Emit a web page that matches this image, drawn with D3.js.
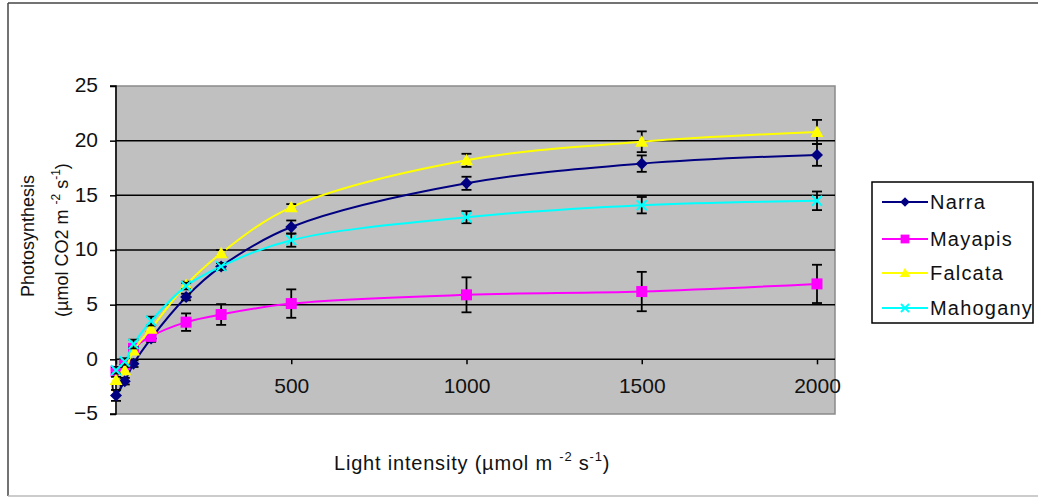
<!DOCTYPE html>
<html><head><meta charset="utf-8">
<script src="https://cdn.jsdelivr.net/npm/d3@7"></script>
<style>html,body{margin:0;padding:0;background:#fff;}svg{display:block;font-family:"Liberation Sans",Arial,sans-serif;}</style>
</head><body>
<svg id="c" width="1038" height="497"></svg>
<script>
// ---- data ----
const lightLevels = [0, 25, 50, 100, 200, 300, 500, 1000, 1500, 2000];
const seriesNames = ["Narra", "Mayapis", "Falcata", "Mahogany"];
const narra    = [-3.3, -2.0, -0.4, 1.9, 5.7, 8.5, 12.1, 16.1, 17.9, 18.7];
const mayapis  = [-1.1, -0.5, 1.0, 2.1, 3.4, 4.1, 5.1, 5.9, 6.2, 6.9];
const falcata  = [-1.9, -1.0, 0.8, 2.8, 6.8, 9.7, 13.9, 18.2, 19.9, 20.8];
const mahogany = [-1.0, -0.2, 1.4, 3.5, 6.7, 8.5, 10.9, 13.0, 14.1, 14.5];
const narraErr    = [0.5, 0.3, 0.3, 0.3, 0.3, 0.3, 0.6, 0.6, 0.75, 1.0];
const mayapisErr  = [0.3, 0.3, 0.3, 0.3, 0.8, 0.95, 1.3, 1.6, 1.8, 1.75];
const falcataErr  = [0.3, 0.3, 0.3, 0.3, 0.3, 0.3, 0.3, 0.6, 0.95, 1.1];
const mahoganyErr = [0.3, 0.3, 0.4, 0.4, 0.3, 0.3, 0.6, 0.55, 0.75, 0.85];
const yTicks = [-5, 0, 5, 10, 15, 20, 25];
const xTicks = [0, 500, 1000, 1500, 2000];

const colors = ["#000080", "#FF00FF", "#FFFF00", "#00FFFF"];
const markers = ["diamond", "square", "triangle", "x"];
const values = [narra, mayapis, falcata, mahogany];
const errs = [narraErr, mayapisErr, falcataErr, mahoganyErr];

const svg = d3.select("#c");
const x = d3.scaleLinear().domain([0, 2000]).range([116, 817]);
const y = d3.scaleLinear().domain([-5, 25]).range([414, 86]);
const plotL = 116, plotR = 835, plotT = 86, plotB = 414;

// outer frame
svg.append("line").attr("x1", 8).attr("y1", 3).attr("x2", 1038).attr("y2", 3).attr("stroke", "#444").attr("stroke-width", 1.5);
svg.append("line").attr("x1", 8).attr("y1", 3).attr("x2", 8).attr("y2", 496).attr("stroke", "#444").attr("stroke-width", 1.5);
svg.append("line").attr("x1", 8).attr("y1", 496).attr("x2", 1038).attr("y2", 496).attr("stroke", "#bbb").attr("stroke-width", 1.5);

// plot area
svg.append("rect").attr("x", plotL).attr("y", plotT).attr("width", plotR - plotL).attr("height", plotB - plotT)
  .attr("fill", "#C0C0C0").attr("stroke", "#8a8a8a").attr("stroke-width", 1.5);

// gridlines
svg.append("g").selectAll("line").data(yTicks.filter(t => t > -5 && t < 25)).join("line")
  .attr("x1", plotL).attr("x2", plotR).attr("y1", d => y(d)).attr("y2", d => y(d))
  .attr("stroke", "#000").attr("stroke-width", 1.5);

// y axis
const yAxis = svg.append("g").attr("transform", `translate(${plotL},0)`)
  .call(d3.axisLeft(y).tickValues(yTicks).tickSize(6).tickPadding(12).tickFormat(d3.format("d")));
yAxis.select(".domain").attr("stroke", "#000").attr("stroke-width", 1.5).attr("d", `M-6,${plotB}H0V${plotT}H-6`);
yAxis.selectAll(".tick line").attr("stroke", "#000").attr("stroke-width", 1.5);
yAxis.selectAll(".tick text").attr("font-size", 21).attr("fill", "#111").attr("font-family", "Liberation Sans, Arial, sans-serif").attr("dy", "0.28em");

// x axis at y=0
const xAxis = svg.append("g").attr("transform", `translate(0,${y(0)})`)
  .call(d3.axisBottom(x).tickValues(xTicks).tickSize(5).tickPadding(14).tickFormat(d3.format("d")));
xAxis.select(".domain").remove();
xAxis.selectAll(".tick line").attr("stroke", "#000").attr("stroke-width", 1.5);
xAxis.selectAll(".tick text").attr("font-size", 21).attr("fill", "#111").attr("font-family", "Liberation Sans, Arial, sans-serif");

// marker symbol generator
function drawMarker(g, type, cx, cy, color, scale) {
  const s = scale || 1;
  if (type === "diamond") {
    g.append("path").attr("d", `M${cx},${cy - 6 * s}L${cx + 6 * s},${cy}L${cx},${cy + 6 * s}L${cx - 6 * s},${cy}Z`).attr("fill", color);
  } else if (type === "square") {
    g.append("rect").attr("x", cx - 5.5 * s).attr("y", cy - 5.5 * s).attr("width", 11 * s).attr("height", 11 * s).attr("fill", color);
  } else if (type === "triangle") {
    g.append("path").attr("d", `M${cx},${cy - 6.5 * s}L${cx + 6.5 * s},${cy + 5 * s}L${cx - 6.5 * s},${cy + 5 * s}Z`).attr("fill", color);
  } else {
    g.append("path").attr("d", `M${cx - 5 * s},${cy - 5 * s}L${cx + 5 * s},${cy + 5 * s}M${cx - 5 * s},${cy + 5 * s}L${cx + 5 * s},${cy - 5 * s}`)
      .attr("stroke", color).attr("stroke-width", 2).attr("fill", "none");
  }
}

const line = d3.line().x(d => x(d[0])).y(d => y(d[1])).curve(d3.curveCatmullRom.alpha(0.5));

values.forEach((vals, i) => {
  const pts = lightLevels.map((lv, j) => [lv, vals[j], errs[i][j]]);
  const g = svg.append("g");
  g.append("path").datum(pts).attr("d", line).attr("fill", "none").attr("stroke", colors[i]).attr("stroke-width", 2);
  // error bars
  const eb = g.append("g").attr("stroke", "#000").attr("stroke-width", 1.8);
  pts.forEach(p => {
    const xx = x(p[0]), y1 = y(p[1] + p[2]), y2 = y(p[1] - p[2]);
    eb.append("line").attr("x1", xx).attr("x2", xx).attr("y1", y1).attr("y2", y2);
    eb.append("line").attr("x1", xx - 5).attr("x2", xx + 5).attr("y1", y1).attr("y2", y1);
    eb.append("line").attr("x1", xx - 5).attr("x2", xx + 5).attr("y1", y2).attr("y2", y2);
  });
  pts.forEach(p => drawMarker(g, markers[i], x(p[0]), y(p[1]), colors[i]));
});

// y title
const yt = svg.append("text").attr("transform", "translate(34,236) rotate(-90)").attr("text-anchor", "middle")
  .attr("font-size", 18).attr("fill", "#111").text("Photosynthesis");
const yt2 = svg.append("text").attr("transform", "translate(68,240) rotate(-90)").attr("text-anchor", "middle")
  .attr("font-size", 18).attr("fill", "#111");
yt2.append("tspan").text("(µmol CO2 m ");
yt2.append("tspan").attr("font-size", 12).attr("dy", -8).text("-2");
yt2.append("tspan").attr("dy", 8).text(" s");
yt2.append("tspan").attr("font-size", 12).attr("dy", -8).text("-1");
yt2.append("tspan").attr("dy", 8).text(")");

// x title
const xt = svg.append("text").attr("x", 334).attr("y", 470).attr("font-size", 20).attr("letter-spacing", 0.8).attr("fill", "#111");
xt.append("tspan").text("Light intensity (µmol m ");
xt.append("tspan").attr("font-size", 13).attr("dy", -9).text("-2");
xt.append("tspan").attr("dy", 9).text(" s");
xt.append("tspan").attr("font-size", 13).attr("dy", -9).text("-1");
xt.append("tspan").attr("dy", 9).text(")");

// legend
const lg = svg.append("g");
lg.append("rect").attr("x", 872).attr("y", 182).attr("width", 161).attr("height", 141).attr("fill", "#fff").attr("stroke", "#000").attr("stroke-width", 1.5);
const legendY = [202, 239, 273, 308];
seriesNames.forEach((name, i) => {
  const ly = legendY[i];
  lg.append("line").attr("x1", 882).attr("x2", 928).attr("y1", ly).attr("y2", ly).attr("stroke", colors[i]).attr("stroke-width", 2);
  drawMarker(lg, markers[i], 905, ly, colors[i], 0.8);
  lg.append("text").attr("x", 930).attr("y", ly + 7).attr("font-size", 20).attr("letter-spacing", 1.2).attr("fill", "#111").text(name);
});
</script>
</body></html>
